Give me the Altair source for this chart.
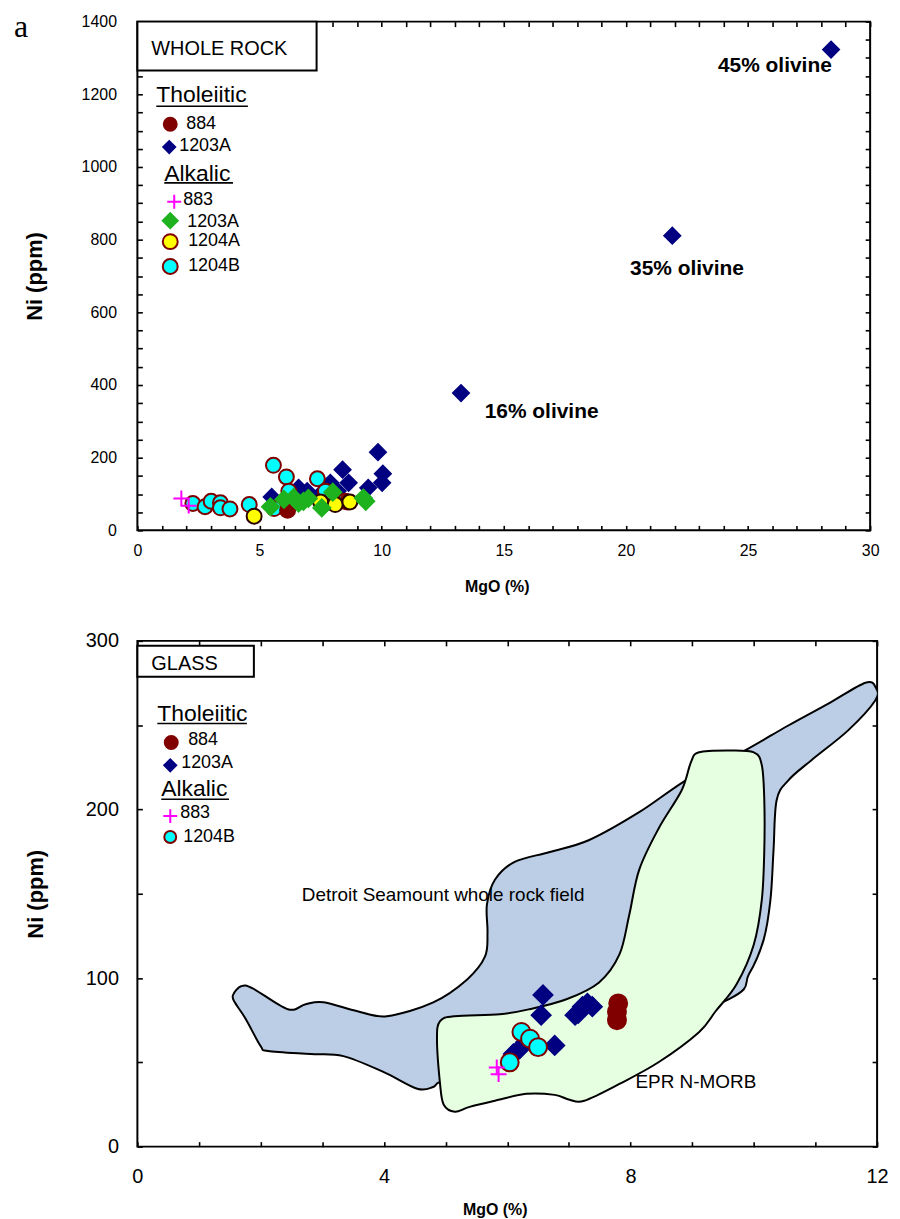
import altair as alt
import pandas as pd

# ---------------- panel a: whole-rock MgO vs Ni ----------------
wr_thol_884_mgo = [6.15, 7.6, 8.6]
wr_thol_884_ni = [55, 72, 78]
wr_thol_1203a_mgo = [28.4, 21.9, 13.25, 9.85, 8.4, 8.65, 10.05, 10.02, 9.45, 7.9, 6.6, 6.95, 5.5, 8.2, 7.5, 6.3]
wr_thol_1203a_ni = [1323, 811, 378, 215, 167, 131, 156, 131, 117, 131, 117, 108, 92, 108, 100, 100]
wr_alk_883_mgo = [1.8, 2.1]
wr_alk_883_ni = [88, 68]
wr_alk_1203a_mgo = [5.45, 6.0, 6.4, 6.8, 7.55, 8.0, 9.25, 7.0, 6.6, 9.35]
wr_alk_1203a_ni = [65, 85, 90, 80, 62, 105, 89, 88, 75, 80]
wr_alk_1204a_mgo = [4.78, 7.5, 8.1, 8.7]
wr_alk_1204a_ni = [39, 78, 71, 78]
wr_alk_1204b_mgo = [2.27, 2.77, 3.02, 3.4, 3.4, 3.79, 4.58, 5.57, 6.1, 7.37, 5.6, 6.2, 7.7, 8.0, 8.5]
wr_alk_1204b_ni = [74, 65, 80, 76, 62, 59, 71, 179, 147, 142, 60, 108, 108, 95, 80]

olivine_labels = ["45% olivine", "35% olivine", "16% olivine"]
olivine_label_mgo = [26.1, 22.5, 16.55]
olivine_label_ni = [1279, 718, 326]

# ---------------- panel b: glass MgO vs Ni ----------------
gl_thol_884_mgo = [7.8, 7.78, 7.78]
gl_thol_884_ni = [85, 80, 75]
gl_thol_1203a_mgo = [6.58, 6.55, 6.77, 6.2, 6.1, 7.15, 7.22, 7.3, 7.38, 7.1, 6.3]
gl_thol_1203a_ni = [90, 78, 60, 58, 55, 79, 83, 85, 83, 78, 62]
gl_alk_883_mgo = [5.83, 5.86]
gl_alk_883_ni = [47, 43]
gl_alk_1204b_mgo = [6.04, 6.23, 6.37, 6.5]
gl_alk_1204b_ni = [50, 68, 64, 59]

# outline of the Detroit Seamount whole-rock field
dsm_field_mgo = [1.55, 1.68, 1.87, 2.44, 2.73, 3.02, 3.57, 4.05, 4.80, 5.35, 5.64, 5.68, 5.67, 5.80,
                 6.12, 6.69, 7.33, 8.14, 8.95, 9.80, 10.56, 11.21, 11.81, 11.98, 11.97, 11.53, 10.93,
                 10.56, 10.37, 10.32, 10.27, 10.16, 9.92, 9.59, 7.49, 5.39, 4.91, 4.80, 4.54, 3.99,
                 3.34, 2.81, 2.12, 2.00, 1.76, 1.58]
dsm_field_ni = [89.8, 95.1, 93.9, 81.5, 84.5, 85.6, 80.3, 77.4, 85.6, 99.2, 112.8, 127.0, 143.5, 158.3,
                168.9, 174.8, 181.9, 198.4, 218.5, 233.9, 249.8, 262.8, 275.2, 272.2, 264.6, 246.9, 229.1,
                217.3, 205.5, 176.0, 146.5, 122.8, 102.2, 87.4, 57.9, 43.1, 38.4, 35.4, 34.3, 44.3,
                53.7, 54.9, 56.7, 59.6, 75.6, 85.6]

# outline of the EPR N-MORB field
morb_field_mgo = [9.11, 9.59, 10.0, 10.13, 10.17, 10.17, 10.13, 10.0, 9.72, 9.38, 9.11, 8.46, 7.82,
                  7.25, 7.01, 6.77, 6.31, 5.80, 5.39, 5.15, 4.97, 4.91, 4.86, 4.91, 5.15, 5.88, 6.36,
                  6.96, 7.49, 7.82, 7.98, 8.14, 8.46, 8.83, 8.98]
morb_field_ni = [233.9, 235.0, 233.9, 226.2, 205.5, 176.0, 146.5, 119.9, 96.3, 80.3, 67.9, 50.2, 37.2,
                 27.2, 27.8, 30.7, 31.3, 27.2, 23.6, 20.7, 24.8, 37.2, 63.8, 74.4, 77.4, 78.5, 81.5,
                 87.4, 97.4, 114.0, 137.6, 164.2, 189.0, 211.4, 228.0]

field_labels = ["Detroit Seamount whole rock field", "EPR N-MORB"]
field_label_mgo = [4.96, 9.06]
field_label_ni = [149.4, 38.4]

# ---------------- styling ----------------
FONT = "Liberation Sans"
NAVY, MAROON, GREEN = "#000080", "#800000", "#1FB21F"
YELLOW, CYAN, MAGENTA = "#FFFF00", "#00FFFF", "#FF00FF"
PLUS = "M-1,0L1,0M0,-1L0,1"

STYLE = {
    "thol884": dict(shape="circle", fill=MAROON, stroke=MAROON),
    "thol1203a": dict(shape="diamond", fill=NAVY, stroke=NAVY),
    "alk883": dict(shape=PLUS, fill="transparent", stroke=MAGENTA),
    "alk1203a": dict(shape="diamond", fill=GREEN, stroke=GREEN),
    "alk1204a": dict(shape="circle", fill=YELLOW, stroke="#2a0000"),
    "alk1204b": dict(shape="circle", fill=CYAN, stroke=MAROON),
}


def symbols(mgo, ni, key, size, xs, ys, sw=2):
    st = STYLE[key]
    df = pd.DataFrame({"mgo": mgo, "ni": ni})
    return alt.Chart(df).mark_point(
        shape=st["shape"], filled=True, fill=st["fill"], stroke=st["stroke"],
        strokeWidth=sw, size=size, opacity=1
    ).encode(
        x=alt.X("mgo:Q", scale=xs, axis=None),
        y=alt.Y("ni:Q", scale=ys, axis=None),
    )


def frame_axes(xs, ys, xdom, ydom, xticks, yticks, xmajor, ymajor, lab_size,
               x_lab_pad, y_lab_pad, x_title_pad, x_title_x, y_title_x, x_title_size):
    common = dict(tickSize=5, offset=-5, domain=False, grid=False, tickColor="black",
                  tickWidth=1.6, labelFont=FONT, labelColor="black", labelOverlap=False,
                  labelFlush=False, format="d")
    bottom = alt.Axis(orient="bottom", values=xticks, labelFontSize=lab_size,
                      labelExpr=f"datum.value % {xmajor} == 0 ? datum.label : ''",
                      labelPadding=x_lab_pad, title="MgO (%)", titleFont=FONT,
                      titleFontSize=x_title_size, titleFontWeight="bold", titleColor="black",
                      titlePadding=x_title_pad, titleX=x_title_x, **common)
    left = alt.Axis(orient="left", values=yticks, labelFontSize=lab_size,
                    labelExpr=f"datum.value % {ymajor} == 0 ? datum.label : ''",
                    labelPadding=y_lab_pad, title="Ni (ppm)", titleFont=FONT,
                    titleFontSize=22, titleFontWeight="bold", titleColor="black",
                    titleX=y_title_x, titleBaseline="middle", **common)
    top = alt.Axis(orient="top", values=xticks, labels=False, title=None, **common)
    right = alt.Axis(orient="right", values=yticks, labels=False, title=None, **common)
    df = pd.DataFrame({"mgo": xdom, "ni": ydom})
    main = alt.Chart(df).mark_point(opacity=0, size=1).encode(
        x=alt.X("mgo:Q", scale=xs, axis=bottom), y=alt.Y("ni:Q", scale=ys, axis=left))
    side = alt.Chart(df).mark_point(opacity=0, size=1).encode(
        x=alt.X("mgo:Q", scale=xs, axis=top), y=alt.Y("ni:Q", scale=ys, axis=right))
    return [main, side]


def pixel_xy():
    return dict(x=alt.X("px:Q", scale=None, axis=None), y=alt.Y("py:Q", scale=None, axis=None))


def key_panel(box, box_text, headings, entries, labels):
    """In-plot key: framed caption, underlined group headings, symbols and labels."""
    layers = []
    layers.append(alt.Chart(pd.DataFrame([box])).mark_rect(
        fill="white", stroke="black", strokeWidth=2).encode(
        x=alt.X("x0:Q", scale=None, axis=None), x2="x1:Q",
        y=alt.Y("y0:Q", scale=None, axis=None), y2="y1:Q"))
    layers.append(alt.Chart(pd.DataFrame([box_text])).mark_text(
        font=FONT, fontSize=20, align="left", baseline="middle", color="black").encode(
        text="t:N", **pixel_xy()))
    hd = pd.DataFrame(headings)
    layers.append(alt.Chart(hd).mark_text(
        font=FONT, fontSize=23, align="left", baseline="middle", color="black").encode(
        text="t:N", **pixel_xy()))
    layers.append(alt.Chart(hd).mark_rule(color="black", strokeWidth=1.6).encode(
        x=alt.X("px:Q", scale=None, axis=None), x2="ux:Q",
        y=alt.Y("uy:Q", scale=None, axis=None)))
    rows = []
    for e in entries:
        st = STYLE[e["key"]]
        rows.append(dict(px=e["px"], py=e["py"], size=e["size"], shape=st["shape"],
                         fill=st["fill"], stroke=MAROON if e["key"] == "alk1204a" else st["stroke"]))
    layers.append(alt.Chart(pd.DataFrame(rows)).mark_point(filled=True, opacity=1, strokeWidth=2).encode(
        shape=alt.Shape("shape:N", scale=None), fill=alt.Fill("fill:N", scale=None),
        stroke=alt.Stroke("stroke:N", scale=None), size=alt.Size("size:Q", scale=None),
        **pixel_xy()))
    layers.append(alt.Chart(pd.DataFrame(labels)).mark_text(
        font=FONT, fontSize=18, align="left", baseline="middle", color="black").encode(
        text="t:N", **pixel_xy()))
    return layers


# ---------------- panel a ----------------
xs_a = alt.Scale(domain=[0, 30], nice=False, zero=False)
ys_a = alt.Scale(domain=[0, 1400], nice=False, zero=False)

a_layers = frame_axes(xs_a, ys_a, [0, 30], [0, 1400], list(range(0, 31)), list(range(0, 1401, 50)),
                      5, 200, 16, 12, 21, 20, 361, -108, 16)
a_layers += [
    symbols(wr_thol_1203a_mgo, wr_thol_1203a_ni, "thol1203a", 256, xs_a, ys_a),
    symbols(wr_alk_1204b_mgo, wr_alk_1204b_ni, "alk1204b", 225, xs_a, ys_a),
    symbols(wr_thol_884_mgo, wr_thol_884_ni, "thol884", 225, xs_a, ys_a),
    symbols(wr_alk_1204a_mgo, wr_alk_1204a_ni, "alk1204a", 225, xs_a, ys_a),
    symbols(wr_alk_1203a_mgo, wr_alk_1203a_ni, "alk1203a", 289, xs_a, ys_a),
    symbols(wr_alk_883_mgo, wr_alk_883_ni, "alk883", 256, xs_a, ys_a),
    alt.Chart(pd.DataFrame({"mgo": olivine_label_mgo, "ni": olivine_label_ni, "t": olivine_labels}))
    .mark_text(font=FONT, fontSize=21, fontWeight="bold", align="center", baseline="middle", color="black")
    .encode(x=alt.X("mgo:Q", scale=xs_a, axis=None), y=alt.Y("ni:Q", scale=ys_a, axis=None), text="t:N"),
]
a_layers += key_panel(
    box=dict(x0=0, x1=180, y0=0, y1=49),
    box_text=dict(px=14, py=28, t="WHOLE ROCK"),
    headings=[dict(px=19, py=74, ux=111, uy=85, t="Tholeiitic"),
              dict(px=27, py=153, ux=96, uy=162, t="Alkalic")],
    entries=[dict(key="thol884", px=33, py=103, size=169),
             dict(key="thol1203a", px=32, py=126, size=144),
             dict(key="alk883", px=37, py=181, size=196),
             dict(key="alk1203a", px=33, py=200, size=225),
             dict(key="alk1204a", px=33, py=221, size=225),
             dict(key="alk1204b", px=33, py=246, size=225)],
    labels=[dict(px=49, py=103, t="884"), dict(px=42, py=125, t="1203A"),
            dict(px=46, py=179, t="883"), dict(px=50, py=201, t="1203A"),
            dict(px=51, py=220, t="1204A"), dict(px=51, py=245, t="1204B")],
)
a_layers.append(alt.Chart(pd.DataFrame({"t": ["a"]})).mark_text(
    font="Liberation Serif", fontSize=32, align="left", baseline="alphabetic", color="black").encode(
    x=alt.value(-124), y=alt.value(15), text="t:N"))

panel_a = alt.layer(*a_layers).resolve_axis(x="independent", y="independent").properties(
    width=736, height=511)

# ---------------- panel b ----------------
xs_b = alt.Scale(domain=[0, 12], nice=False, zero=False)
ys_b = alt.Scale(domain=[0, 300], nice=False, zero=False)


def field(mgo, ni, color):
    df = pd.DataFrame({"mgo": mgo, "ni": ni, "i": list(range(len(mgo)))})
    return alt.Chart(df).mark_line(
        fill=color, stroke="black", strokeWidth=2, interpolate="cardinal-closed", clip=True
    ).encode(x=alt.X("mgo:Q", scale=xs_b, axis=None), y=alt.Y("ni:Q", scale=ys_b, axis=None),
             order="i:Q")


b_layers = frame_axes(xs_b, ys_b, [0, 12], [0, 300], list(range(0, 13)), list(range(0, 301, 50)),
                      4, 100, 20, 20, 19, 15, 359, -107, 16)
b_layers += [
    field(dsm_field_mgo, dsm_field_ni, "#BBCEE6"),
    field(morb_field_mgo, morb_field_ni, "#E6FFE1"),
    alt.Chart(pd.DataFrame({"mgo": field_label_mgo, "ni": field_label_ni, "t": field_labels}))
    .mark_text(font=FONT, fontSize=19, align="center", baseline="middle", color="black")
    .encode(x=alt.X("mgo:Q", scale=xs_b, axis=None), y=alt.Y("ni:Q", scale=ys_b, axis=None), text="t:N"),
    symbols(gl_thol_1203a_mgo, gl_thol_1203a_ni, "thol1203a", 361, xs_b, ys_b),
    symbols(gl_thol_884_mgo, gl_thol_884_ni, "thol884", 324, xs_b, ys_b),
    symbols(gl_alk_1204b_mgo, gl_alk_1204b_ni, "alk1204b", 324, xs_b, ys_b),
    symbols(gl_alk_883_mgo, gl_alk_883_ni, "alk883", 256, xs_b, ys_b),
]
b_layers += key_panel(
    box=dict(x0=0, x1=117, y0=5, y1=36),
    box_text=dict(px=14, py=23, t="GLASS"),
    headings=[dict(px=20, py=73, ux=110, uy=83, t="Tholeiitic"),
              dict(px=24, py=149, ux=92, uy=159, t="Alkalic")],
    entries=[dict(key="thol884", px=34, py=102, size=169),
             dict(key="thol1203a", px=33, py=125, size=144),
             dict(key="alk883", px=33, py=176, size=196),
             dict(key="alk1204b", px=33, py=197, size=144)],
    labels=[dict(px=51, py=100, t="884"), dict(px=44, py=123, t="1203A"),
            dict(px=43, py=173, t="883"), dict(px=46, py=197, t="1204B")],
)

panel_b = alt.layer(*b_layers).resolve_axis(x="independent", y="independent").properties(
    width=743, height=508)

chart = alt.vconcat(panel_a, panel_b, spacing=111, bounds="flush").properties(
    padding={"left": 13, "top": 7, "right": 10, "bottom": 5}
).configure_view(stroke="black", strokeWidth=2)

chart.save("out.html", embed_options={"renderer": "svg", "actions": False})
